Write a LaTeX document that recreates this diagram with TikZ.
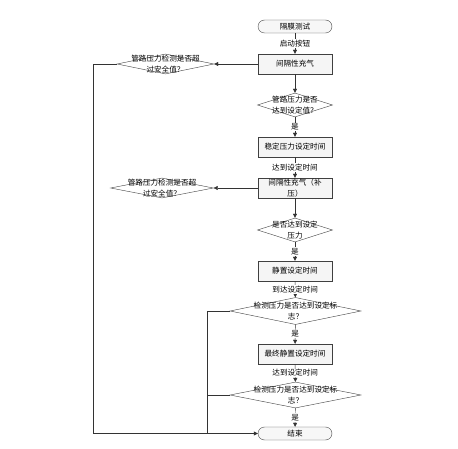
\documentclass[tikz,border=0pt]{standalone}
\usepackage{fontspec}
\newfontfamily\cjk{Noto Sans CJK SC}
\usetikzlibrary{shapes.geometric,arrows.meta}
\begin{document}
\begin{tikzpicture}[x=1pt,y=-1pt,
  every node/.style={font=\cjk\fontsize{7.6}{10.5}\selectfont},
  proc/.style={draw=black!75,fill=gray!8,minimum width=74pt,minimum height=20pt,inner sep=1pt,align=center,text width=62pt},
  term/.style={draw=black!75,fill=gray!6,rounded corners=6.5pt,minimum width=74pt,minimum height=13pt,inner sep=1pt},
  dec/.style={draw=black!75,fill=white,diamond,inner sep=0pt},
  dtxt/.style={align=center,inner sep=0pt},
  lbl/.style={fill=white,inner sep=0.8pt},
  arr/.style={draw=black!80,-{Triangle[length=4pt,width=4pt]}},
  ln/.style={draw=black!80}]
\useasboundingbox (0,0) rectangle (458,449);
\node[term] (start) at (295,26.5) {隔膜测试};
\node[proc] (p1) at (295,64) {间隔性充气};
\node[dec,minimum width=97pt,minimum height=20pt] (s1) at (165.5,64) {};
\node[dtxt] (s1t) at (s1) {管路压力检测是否超\\过安全值？};
\node[dec,minimum width=75pt,minimum height=24pt] (d1) at (295,105) {};
\node[dtxt] (d1t) at (d1) {管路压力是否\\达到设定值？};
\node[proc] (p2) at (295,147) {稳定压力设定时间};
\node[proc] (p3) at (295,188) {间隔性充气（补\\压）};
\node[dec,minimum width=103pt,minimum height=20pt] (s2) at (162,188) {};
\node[dtxt] (s2t) at (s2) {管路压力检测是否超\\过安全值？};
\node[dec,minimum width=75pt,minimum height=24pt] (d2) at (295,230) {};
\node[dtxt] (d2t) at (d2) {是否达到设定\\压力};
\node[proc] (p4) at (295,271) {静置设定时间};
\node[dec,minimum width=131pt,minimum height=27pt] (d3) at (295.5,311) {};
\node[dtxt] (d3t) at (d3) {检测压力是否达到设定标\\志？};
\node[proc] (p5) at (295,354) {最终静置设定时间};
\node[dec,minimum width=131pt,minimum height=26pt] (d4) at (295.5,395) {};
\node[dtxt] (d4t) at (d4) {检测压力是否达到设定标\\志？};
\node[term] (end) at (295,433.5) {结束};

\draw[arr] (start) -- node[lbl]{启动按钮} (p1);
\draw[arr] (p1) -- (s1);
\draw[arr] (p1) -- (d1);
\draw[arr] (d1) -- node[lbl]{是} (p2);
\draw[arr] (p2) -- node[lbl]{达到设定时间} (p3);
\draw[arr] (p3) -- (s2);
\draw[arr] (p3) -- (d2);
\draw[arr] (d2) -- node[lbl]{是} (p4);
\draw[arr] (p4) -- node[lbl]{到达设定时间} (d3);
\draw[arr] (d3) -- node[lbl]{是} (p5);
\draw[arr] (p5) -- node[lbl]{达到设定时间} (d4);
\draw[arr] (d4) -- node[lbl]{是} (end);

\coordinate (c1) at (93,433.5);
\coordinate (c2) at (207,433.5);
\draw[ln] (s1.west) -| (c1);
\draw[arr] (c1) -- (end.west);
\draw[ln] (d3.west) -| (c2);
\draw[ln] (d4.west) -- (d4.west -| c2);
\end{tikzpicture}
\end{document}
